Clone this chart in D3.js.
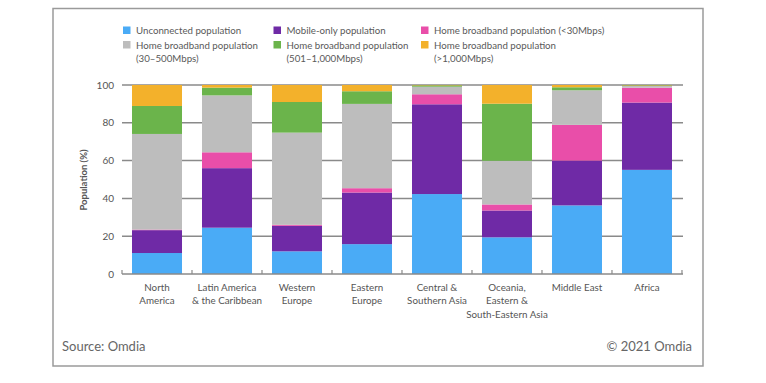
<!DOCTYPE html>
<html>
<head>
<meta charset="utf-8">
<script src="https://cdn.jsdelivr.net/npm/d3@7"></script>
<style>
  html, body { margin: 0; padding: 0; background: #fff; }
  svg { display: block; }
  text { font-family: Lato, "Open Sans", sans-serif; }
</style>
</head>
<body>
<svg id="chart" width="766" height="383"></svg>
<script>
// ---- data ----
const categories = ["North America", "Latin America & the Caribbean", "Western Europe", "Eastern Europe",
  "Central & Southern Asia", "Oceania, Eastern & South-Eastern Asia", "Middle East", "Africa"];
const categoryLines = [["North", "America"], ["Latin America", "& the Caribbean"], ["Western", "Europe"],
  ["Eastern", "Europe"], ["Central &", "Southern Asia"], ["Oceania,", "Eastern &", "South-Eastern Asia"],
  ["Middle East"], ["Africa"]];
const seriesNames = ["Unconnected population", "Mobile-only population", "Home broadband population (<30Mbps)",
  "Home broadband population (30–500Mbps)", "Home broadband population (501–1,000Mbps)",
  "Home broadband population (>1,000Mbps)"];
const unconnected = [11.1, 24.5, 12.0, 15.8, 42.3, 19.4, 36.3, 55.1];
const mobileOnly  = [12.1, 31.5, 13.5, 27.3, 47.5, 14.2, 23.7, 35.6];
const bbUnder30   = [0.3, 8.4, 0.5, 2.3, 5.3, 3.2, 18.9, 7.9];
const bb30to500   = [50.6, 30.1, 48.8, 44.6, 4.0, 23.1, 18.3, 0.9];
const bb501to1000 = [14.8, 4.1, 16.2, 6.7, 0.7, 30.2, 1.6, 0.3];
const bbOver1000  = [11.1, 1.4, 9.0, 3.3, 0.2, 9.9, 1.2, 0.2];
const yTicks = [0, 20, 40, 60, 80, 100];

const seriesValues = [unconnected, mobileOnly, bbUnder30, bb30to500, bb501to1000, bbOver1000];
const colors = ["#4aabf6", "#6f2aa6", "#e94ea9", "#bdbdbd", "#6bb44b", "#f3b12b"];
const legendLines = [["Unconnected population"], ["Mobile-only population"], ["Home broadband population (<30Mbps)"],
  ["Home broadband population", "(30–500Mbps)"], ["Home broadband population", "(501–1,000Mbps)"],
  ["Home broadband population", "(>1,000Mbps)"]];

const svg = d3.select("#chart");

// frame
svg.append("rect").attr("x", 53).attr("y", 8.5).attr("width", 650).attr("height", 357.5)
  .attr("fill", "#fff").attr("stroke", "#9a9a9a").attr("stroke-width", 1.5);

const x = d3.scaleBand().domain(categories).range([122, 682]).paddingInner(0.2857).paddingOuter(0.143);
const y = d3.scaleLinear().domain([0, 100]).range([274, 85]);

// gridlines
svg.append("g").selectAll("line").data(yTicks.filter(d => d > 0)).join("line")
  .attr("x1", 122).attr("x2", 683).attr("y1", d => y(d)).attr("y2", d => y(d))
  .attr("stroke", "#8a8a8a").attr("stroke-width", 1.5);

// stacked data
const table = categories.map((c, i) => {
  const o = { cat: c };
  seriesNames.forEach((s, j) => o[s] = seriesValues[j][i]);
  return o;
});
const stack = d3.stack().keys(seriesNames)(table);

svg.append("g").selectAll("g").data(stack).join("g")
  .attr("fill", (d, i) => colors[i])
  .selectAll("rect").data(d => d).join("rect")
  .attr("x", d => x(d.data.cat))
  .attr("width", x.bandwidth())
  .attr("y", d => y(d[1]))
  .attr("height", d => Math.max(0, y(d[0]) - y(d[1])));

// x axis
const xAxis = svg.append("g");
xAxis.append("line").attr("x1", 122).attr("x2", 683).attr("y1", y(0)).attr("y2", y(0))
  .attr("stroke", "#8a8a8a").attr("stroke-width", 1.5);
const boundaries = d3.range(categories.length + 1).map(i => 122 + i * x.step());
xAxis.selectAll("line.tick").data(boundaries).join("line").attr("class", "tick")
  .attr("x1", d => d).attr("x2", d => d).attr("y1", y(0)).attr("y2", y(0) - 4)
  .attr("stroke", "#8a8a8a").attr("stroke-width", 1.2);

const xl = svg.append("g").selectAll("text").data(categories).join("text")
  .attr("x", d => x(d) + x.bandwidth() / 2)
  .attr("text-anchor", "middle").attr("font-size", 9.8).attr("fill", "#555");
xl.each(function (d, i) {
  d3.select(this).selectAll("tspan").data(categoryLines[i]).join("tspan")
    .attr("x", x(d) + x.bandwidth() / 2)
    .attr("y", (t, k) => 291 + k * 13.3)
    .text(t => t);
});

// y ticks
svg.append("g").selectAll("text").data(yTicks).join("text")
  .attr("x", 114).attr("y", d => y(d) + 3.5).attr("text-anchor", "end")
  .attr("font-size", 10).attr("fill", "#555").text(d => d);

// y title
svg.append("text").attr("transform", "translate(87,180) rotate(-90)")
  .attr("text-anchor", "middle").attr("font-size", 9.5).attr("font-weight", "bold")
  .attr("fill", "#555").text("Population (%)");

// legend
const legX = [123, 273.5, 421];
const legY = [30.5, 45];
const leg = svg.append("g").selectAll("g").data(seriesNames).join("g")
  .attr("transform", (d, i) => `translate(${legX[i % 3]},${legY[Math.floor(i / 3)]})`);
leg.append("rect").attr("x", 0).attr("y", -4).attr("width", 7.5).attr("height", 7.5)
  .attr("fill", (d, i) => colors[i]);
leg.each(function (d, i) {
  d3.select(this).append("text").attr("font-size", 9.7).attr("fill", "#595959")
    .selectAll("tspan").data(legendLines[i]).join("tspan")
    .attr("x", 13).attr("y", (t, k) => 3.5 + k * 13)
    .text(t => t);
});

// footer
svg.append("text").attr("x", 62).attr("y", 351).attr("font-size", 13).attr("fill", "#666").text("Source: Omdia");
svg.append("text").attr("x", 692).attr("y", 351).attr("text-anchor", "end").attr("font-size", 13)
  .attr("fill", "#666").text("© 2021 Omdia");
</script>
</body>
</html>
